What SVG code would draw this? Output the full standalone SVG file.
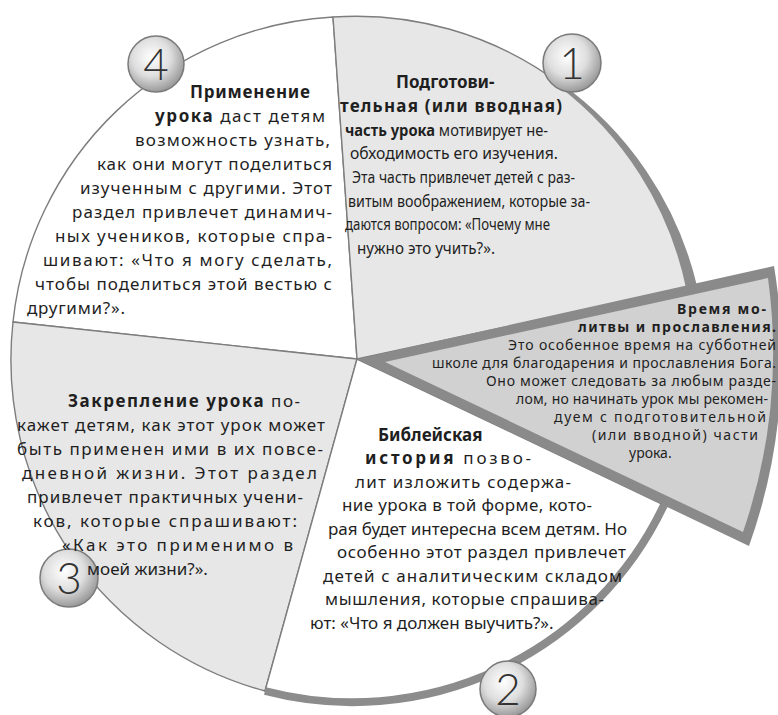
<svg xmlns="http://www.w3.org/2000/svg" width="778" height="715" viewBox="0 0 778 715">
<style>
.t{font-family:"Noto Sans","Open Sans","DejaVu Sans",sans-serif;font-size:17px;fill:#1f1f1f}
.b{font-weight:700}
.w{font-size:14px}
.c{font-size:16px}
.num{font-family:"Lato","DejaVu Sans",sans-serif;font-weight:300;font-size:44px;fill:#333;text-anchor:middle}
.thin{stroke:#7d7d7d;stroke-width:1.4;stroke-linejoin:round}
.ball{fill:url(#ball);stroke:#7a7a7a;stroke-width:1.5}
</style>
<defs>
<radialGradient id="ball" cx="0.42" cy="0.38" r="0.62">
<stop offset="0" stop-color="#ffffff"/>
<stop offset="0.55" stop-color="#dedede"/>
<stop offset="1" stop-color="#9a9a9a"/>
</radialGradient>
</defs>
<rect width="778" height="715" fill="#ffffff"/>

<g id="node-4">
<path class="thin" fill="#ffffff" d="M357,359 L13,322 A341,341 0 0 1 333,17 Z"/>
</g>
<g id="node-3">
<path class="thin" fill="#e7e7e7" d="M357,359 L265,691 A343,343 0 0 1 13,322 Z"/>
</g>
<g id="node-1">
<path class="thin" fill="#e7e7e7" d="M357,359 L333,17 A341,341 0 0 1 690,287 Z"/>
<path fill="#8c8c8c" d="M557,85 L559,82 A348,348 0 0 1 697,286 L686,288 A341,341 0 0 0 557,85 Z"/>
</g>
<g id="node-2">
<path class="thin" fill="#ffffff" d="M357,359 L664,505 A345,345 0 0 1 265,691 Z"/>
<path fill="none" stroke="#8c8c8c" stroke-width="8" d="M664,505 A345,345 0 0 1 265,691"/>
</g>
<g id="node-prayer">
<path fill="#8a8a8a" d="M357,359 L774,266 A560,560 0 0 1 749,546 Z"/>
<path fill="#d1d1d1" d="M385,362 L768,278 A554,554 0 0 1 743,532 Z"/>
</g>
<g id="connectors"></g>

<g id="badge-4"><circle class="ball" cx="156" cy="64" r="28"/><text class="num" x="156" y="80">4</text></g>
<g id="badge-1"><circle class="ball" cx="572" cy="63" r="29"/><text class="num" x="572" y="79">1</text></g>
<g id="badge-3"><circle class="ball" cx="69" cy="578" r="29"/><text class="num" x="69" y="594">3</text></g>
<g id="badge-2"><circle class="ball" cx="508" cy="689" r="28"/><text class="num" x="508" y="705">2</text></g>

<g id="text-4">
<text class="t b" x="190" y="98" textLength="120" lengthAdjust="spacing">Применение</text>
<text class="t" x="155" y="122" textLength="170" lengthAdjust="spacing"><tspan class="b">урока</tspan> даст детям</text>
<text class="t" x="135" y="146" textLength="195" lengthAdjust="spacing">возможность узнать,</text>
<text class="t" x="97" y="170" textLength="235" lengthAdjust="spacing">как они могут поделиться</text>
<text class="t" x="80" y="194" textLength="252" lengthAdjust="spacing">изученным с другими. Этот</text>
<text class="t" x="72" y="218" textLength="260" lengthAdjust="spacing">раздел привлечет динамич-</text>
<text class="t" x="55" y="242" textLength="277" lengthAdjust="spacing">ных учеников, которые спра-</text>
<text class="t" x="43" y="266" textLength="289" lengthAdjust="spacing">шивают: «Что я могу сделать,</text>
<text class="t" x="35" y="290" textLength="297" lengthAdjust="spacing">чтобы поделиться этой вестью с</text>
<text class="t" x="27" y="314" textLength="98" lengthAdjust="spacing">другими?».</text>
</g>

<g id="text-1">
<text class="t b" x="396" y="88">Подготови-</text>
<text class="t b" x="340" y="112" textLength="222" lengthAdjust="spacing">тельная (или вводная)</text>
<text class="t c" x="345" y="136" textLength="203" lengthAdjust="spacingAndGlyphs"><tspan class="b">часть урока</tspan> мотивирует не-</text>
<text class="t c" x="350" y="159" textLength="208" lengthAdjust="spacingAndGlyphs">обходимость его изучения.</text>
<text class="t c" x="352" y="183" textLength="223" lengthAdjust="spacingAndGlyphs">Эта часть привлечет детей с раз-</text>
<text class="t c" x="348" y="207" textLength="242" lengthAdjust="spacingAndGlyphs">витым воображением, которые за-</text>
<text class="t c" x="345" y="230" textLength="205" lengthAdjust="spacingAndGlyphs">даются вопросом: «Почему мне</text>
<text class="t c" x="357" y="254" textLength="138" lengthAdjust="spacingAndGlyphs">нужно это учить?».</text>
</g>

<g id="text-3">
<text class="t" x="68" y="407" textLength="232" lengthAdjust="spacing"><tspan class="b">Закрепление урока</tspan> по-</text>
<text class="t" x="17" y="431" textLength="308" lengthAdjust="spacing">кажет детям, как этот урок может</text>
<text class="t" x="17" y="455" textLength="306" lengthAdjust="spacing">быть применен ими в их повсе-</text>
<text class="t" x="22" y="479" textLength="295" lengthAdjust="spacing">дневной жизни. Этот раздел</text>
<text class="t" x="27" y="503" textLength="276" lengthAdjust="spacing">привлечет практичных учени-</text>
<text class="t" x="33" y="527" textLength="264" lengthAdjust="spacing">ков, которые спрашивают:</text>
<text class="t" x="62" y="551" textLength="231" lengthAdjust="spacing">«Как это применимо в</text>
<text class="t" x="87" y="575">моей жизни?».</text>
</g>

<g id="text-2">
<text class="t b" x="378" y="441">Библейская</text>
<text class="t" x="365" y="464" textLength="166" lengthAdjust="spacing"><tspan class="b">история</tspan> позво-</text>
<text class="t" x="355" y="488" textLength="216" lengthAdjust="spacing">лит изложить содержа-</text>
<text class="t" x="342" y="511" textLength="250" lengthAdjust="spacing">ние урока в той форме, кото-</text>
<text class="t" x="328" y="535" textLength="299" lengthAdjust="spacing">рая будет интересна всем детям. Но</text>
<text class="t" x="337" y="558" textLength="289" lengthAdjust="spacing">особенно этот раздел привлечет</text>
<text class="t" x="323" y="582" textLength="299" lengthAdjust="spacing">детей с аналитическим складом</text>
<text class="t" x="325" y="605" textLength="279" lengthAdjust="spacing">мышления, которые спрашива-</text>
<text class="t" x="310" y="629">ют: «Что я должен выучить?».</text>
</g>

<g id="text-prayer">
<text class="t w b" x="677" y="314" textLength="89" lengthAdjust="spacing">Время мо-</text>
<text class="t w b" x="578" y="332" textLength="198" lengthAdjust="spacing">литвы и прославления.</text>
<text class="t w" x="508" y="350" textLength="268" lengthAdjust="spacing">Это особенное время на субботней</text>
<text class="t w" x="432" y="368" textLength="344" lengthAdjust="spacing">школе для благодарения и прославления Бога.</text>
<text class="t w" x="486" y="386" textLength="290" lengthAdjust="spacing">Оно может следовать за любым разде-</text>
<text class="t w" x="516" y="404" textLength="252" lengthAdjust="spacing">лом, но начинать урок мы рекомен-</text>
<text class="t w" x="554" y="422" textLength="212" lengthAdjust="spacing">дуем с подготовительной</text>
<text class="t w" x="592" y="440" textLength="166" lengthAdjust="spacing">(или вводной) части</text>
<text class="t w" x="629" y="458">урока.</text>
</g>
</svg>
